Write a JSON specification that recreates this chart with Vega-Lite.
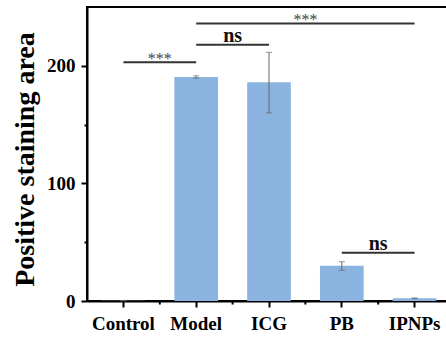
{
  "$schema": "https://vega.github.io/schema/vega-lite/v6.json",
  "autosize": "none",
  "padding": {"left": 87, "top": 7, "right": 0, "bottom": 38},
  "width": 364,
  "height": 294,
  "background": "white",
  "config": {
    "view": {"stroke": "black", "strokeWidth": 2},
    "axis": {
      "grid": false,
      "domainColor": "black",
      "domainWidth": 2,
      "tickColor": "black",
      "tickWidth": 2,
      "labelFont": "'Times New Roman', 'Liberation Serif', 'DejaVu Serif', serif",
      "labelFontWeight": "bold",
      "labelFontSize": 19,
      "labelColor": "black",
      "titleFont": "'Times New Roman', 'Liberation Serif', 'DejaVu Serif', serif",
      "titleFontWeight": "bold",
      "titleColor": "black"
    }
  },
  "datasets": {
    "bars": [
      {"group": "Control", "value": 0.3, "lo": 0.1, "hi": 0.5},
      {"group": "Model", "value": 190.5, "lo": 189.5, "hi": 191.5},
      {"group": "ICG", "value": 186, "lo": 160, "hi": 211.5},
      {"group": "PB", "value": 30, "lo": 26.1, "hi": 33.4},
      {"group": "IPNPs", "value": 2.3, "lo": 2.0, "hi": 2.6}
    ],
    "sig": [
      {"from": "Control", "to": "Model", "mid": "Control", "y": 203, "label": "***"},
      {"from": "Model", "to": "ICG", "mid": "Model", "y": 218, "label": "ns"},
      {"from": "Model", "to": "IPNPs", "mid": "ICG", "y": 236, "label": "***"},
      {"from": "PB", "to": "IPNPs", "mid": "PB", "y": 41, "label": "ns"}
    ],
    "bounds": [
      {"group": "Control"}, {"group": "Model"}, {"group": "ICG"}, {"group": "PB"}
    ]
  },
  "layer": [
    {
      "data": {"name": "bars"},
      "mark": {"type": "bar", "color": "#8AB4DF"},
      "encoding": {
        "x": {
          "field": "group", "type": "nominal",
          "scale": {"domain": ["Control", "Model", "ICG", "PB", "IPNPs"], "paddingInner": 0.4, "paddingOuter": 0.2},
          "axis": {"title": null, "labelAngle": 0, "tickSize": 6, "labelPadding": 7}
        },
        "y": {
          "field": "value", "type": "quantitative",
          "scale": {"domain": [0, 250], "nice": false},
          "axis": {
            "title": "Positive staining area",
            "titleFontSize": 28,
            "titleX": -54,
            "titleY": 152,
            "titleBaseline": "alphabetic",
            "titleAlign": "center",
            "values": [0, 50, 100, 150, 200],
            "labelExpr": "datum.value % 100 === 0 ? datum.label : ''",
            "tickSize": {"condition": {"test": "datum.value % 100 === 0", "value": 6}, "value": 3},
            "labelPadding": 6
          }
        }
      }
    },
    {
      "data": {"name": "bars"},
      "mark": {"type": "rule", "color": "#666666", "strokeWidth": 1},
      "encoding": {
        "x": {"field": "group", "type": "nominal"},
        "y": {"field": "lo", "type": "quantitative"},
        "y2": {"field": "hi"}
      }
    },
    {
      "data": {"name": "bars"},
      "mark": {"type": "tick", "color": "#666666", "thickness": 1, "size": 6, "orient": "horizontal"},
      "encoding": {
        "x": {"field": "group", "type": "nominal"},
        "y": {"field": "lo", "type": "quantitative"}
      }
    },
    {
      "data": {"name": "bars"},
      "mark": {"type": "tick", "color": "#666666", "thickness": 1, "size": 6, "orient": "horizontal"},
      "encoding": {
        "x": {"field": "group", "type": "nominal"},
        "y": {"field": "hi", "type": "quantitative"}
      }
    },
    {
      "data": {"name": "sig"},
      "mark": {"type": "rule", "color": "#333333", "strokeWidth": 2},
      "encoding": {
        "x": {"field": "from", "type": "nominal"},
        "x2": {"field": "to"},
        "y": {"field": "y", "type": "quantitative"}
      }
    },
    {
      "data": {"name": "sig"},
      "transform": [{"filter": "datum.label === 'ns'"}],
      "mark": {"type": "text", "font": "'Times New Roman', 'Liberation Serif', 'DejaVu Serif', serif", "fontWeight": "bold", "fontSize": 20, "baseline": "alphabetic", "dy": -3, "color": "#111111"},
      "encoding": {
        "x": {"field": "mid", "type": "nominal", "bandPosition": 1.3333},
        "y": {"field": "y", "type": "quantitative"},
        "text": {"field": "label"}
      }
    },
    {
      "data": {"name": "sig"},
      "transform": [{"filter": "datum.label === '***'"}],
      "mark": {"type": "text", "font": "'Times New Roman', 'Liberation Serif', 'DejaVu Serif', serif", "fontSize": 16, "baseline": "alphabetic", "dy": 2, "color": "#444444"},
      "encoding": {
        "x": {"field": "mid", "type": "nominal", "bandPosition": 1.3333},
        "y": {"field": "y", "type": "quantitative"},
        "text": {"field": "label"}
      }
    },
    {
      "data": {"name": "bounds"},
      "mark": {"type": "rule", "color": "black", "strokeWidth": 2},
      "encoding": {
        "x": {"field": "group", "type": "nominal", "bandPosition": 1.3333},
        "y": {"datum": 0},
        "y2": {"datum": -3}
      }
    }
  ]
}
